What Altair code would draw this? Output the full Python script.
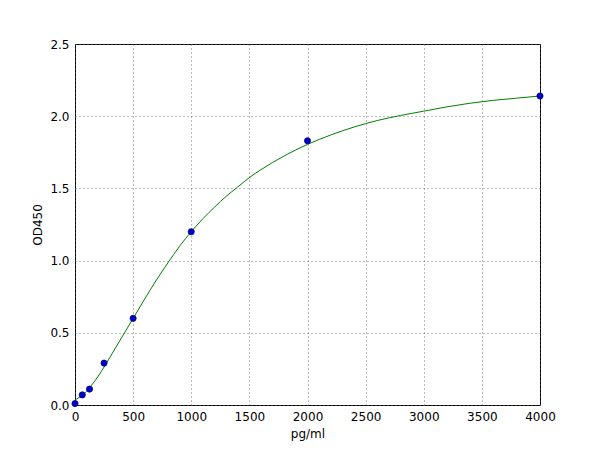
import altair as alt
import pandas as pd

# Standard points
std_conc = [0, 62.5, 125, 250, 500, 1000, 2000, 4000]
std_od = [0.01, 0.07, 0.11, 0.29, 0.60, 1.20, 1.83, 2.14]

# Fitted curve
curve_conc = [0, 50, 100, 150, 200, 300, 400, 500, 600, 700, 800, 900, 1000,
              1100, 1200, 1300, 1400, 1500, 1600, 1800, 2000, 2200, 2400, 2600,
              2800, 3000, 3200, 3400, 3600, 3800, 4000]
curve_od = [0.035, 0.06, 0.095, 0.145, 0.20, 0.33, 0.465, 0.60, 0.735, 0.865, 0.985, 1.10, 1.20,
            1.29, 1.37, 1.445, 1.51, 1.575, 1.63, 1.725, 1.805, 1.87, 1.925, 1.97,
            2.005, 2.035, 2.065, 2.09, 2.11, 2.125, 2.14]

x_ticks = [0, 500, 1000, 1500, 2000, 2500, 3000, 3500, 4000]
y_ticks = [0.0, 0.5, 1.0, 1.5, 2.0, 2.5]

pts = pd.DataFrame({"x": std_conc, "y": std_od})
crv = pd.DataFrame({"x": curve_conc, "y": curve_od})

FONT = "DejaVu Sans"

xs = alt.Scale(domain=[0, 4000], nice=False, zero=False)
ys = alt.Scale(domain=[0, 2.5], nice=False, zero=False)

xax = alt.Axis(values=x_ticks, title="pg/ml", format="d", grid=True, ticks=False,
               labelPadding=6, titlePadding=6, domain=False, labelFlush=False)
yax = alt.Axis(values=y_ticks, title="OD450", format=".1f", grid=True, ticks=False,
               labelPadding=6, titlePadding=5, domain=False, labelFlush=False)

line = alt.Chart(crv).mark_line(color="#008000", strokeWidth=1, clip=True,
                                interpolate="monotone").encode(
    x=alt.X("x:Q", scale=xs, axis=xax),
    y=alt.Y("y:Q", scale=ys, axis=yax),
)

points = alt.Chart(pts).mark_circle(color="#0000cc", size=38, opacity=1,
                                    stroke="#000080", strokeWidth=0.8).encode(
    x=alt.X("x:Q", scale=xs),
    y=alt.Y("y:Q", scale=ys),
)

chart = (line + points).properties(
    width=465, height=361,
    autosize=alt.AutoSizeParams(type="none"),
    padding={"left": 67, "top": 36, "right": 52, "bottom": 45},
    background="white",
).configure_view(
    stroke="black", strokeWidth=1,
).configure_axis(
    labelFont=FONT, titleFont=FONT, labelFontSize=12, titleFontSize=12,
    labelColor="black", titleColor="black", titleFontWeight="normal",
    gridColor="#555555", gridDash=[1, 3], gridWidth=1, gridOpacity=0.8,
)

chart.save("out.html", embed_options={"renderer": "svg", "actions": False})
